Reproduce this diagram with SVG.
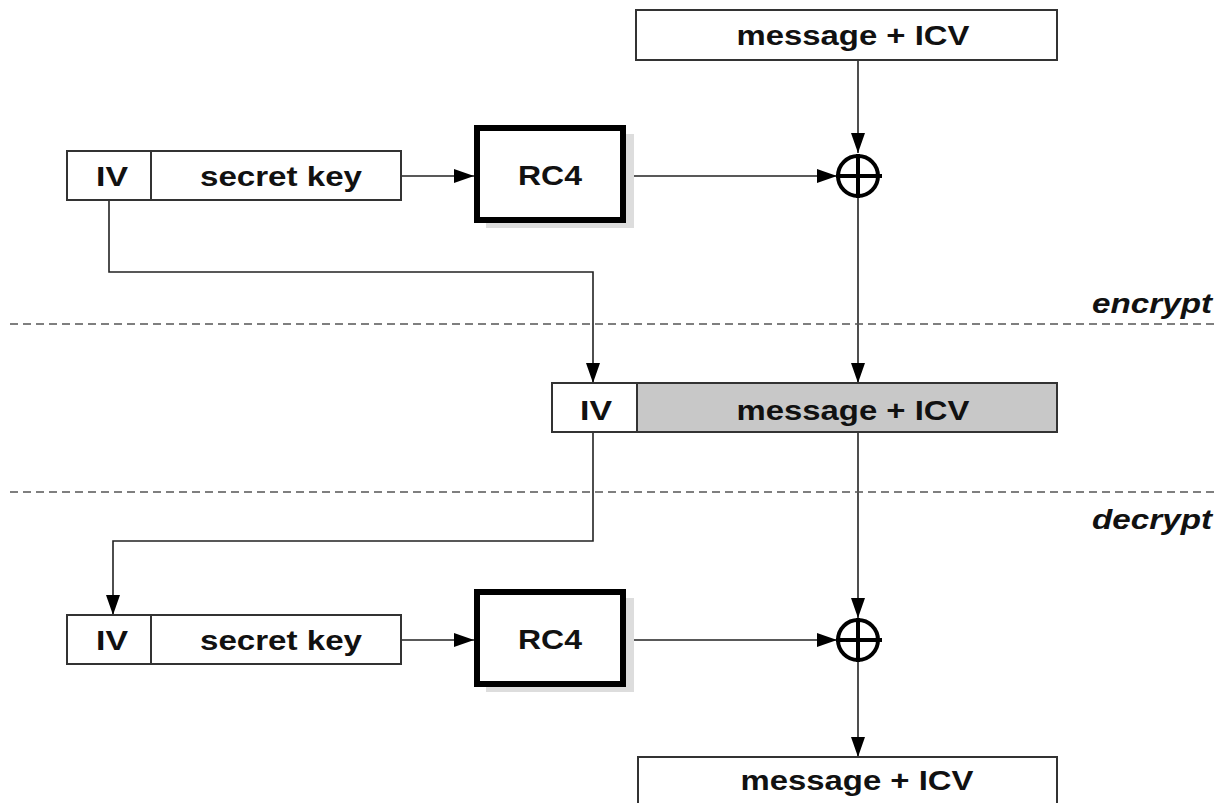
<svg xmlns="http://www.w3.org/2000/svg" width="1218" height="803" viewBox="0 0 1218 803">
<style>
.box{fill:#fff;stroke:#333;stroke-width:2}
.gray{fill:#c8c8c8;stroke:#333;stroke-width:2}
.rc4{fill:#fff;stroke:#000;stroke-width:6}
.shadow{fill:#ddd;stroke:none}
.t{font-family:"Liberation Sans",Arial,sans-serif;font-weight:bold;font-size:28px;fill:#111;text-anchor:middle}
.it{font-style:italic}
.c{fill:none;stroke:#222;stroke-width:1.6}
.x{fill:none;stroke:#000;stroke-width:4}
.dash{fill:none;stroke:#555;stroke-width:1.6;stroke-dasharray:8 5}
</style>
<defs>
<marker id="ah" markerUnits="userSpaceOnUse" markerWidth="22" markerHeight="16" refX="20" refY="7" orient="auto">
<path d="M0,0 L20,7 L0,14 Z" fill="#000"/>
</marker>
</defs>
<rect width="1218" height="803" fill="#fff"/>
<g id="connectors">
<line class="c" x1="858" y1="60" x2="858" y2="153" marker-end="url(#ah)"/>
<line class="c" x1="401" y1="176" x2="474" y2="176" marker-end="url(#ah)"/>
<line class="c" x1="626" y1="176" x2="837" y2="176" marker-end="url(#ah)"/>
<line class="c" x1="858" y1="198" x2="858" y2="383" marker-end="url(#ah)"/>
<polyline class="c" points="109,200 109,272 593,272 593,383" marker-end="url(#ah)"/>
<polyline class="c" points="593,432 593,541 113,541 113,615" marker-end="url(#ah)"/>
<line class="c" x1="858" y1="432" x2="858" y2="618" marker-end="url(#ah)"/>
<line class="c" x1="401" y1="640" x2="474" y2="640" marker-end="url(#ah)"/>
<line class="c" x1="626" y1="640" x2="837" y2="640" marker-end="url(#ah)"/>
<line class="c" x1="858" y1="662" x2="858" y2="757" marker-end="url(#ah)"/>
</g>
<g id="dividers">
<line class="dash" x1="10" y1="324" x2="1218" y2="324"/>
<line class="dash" x1="10" y1="492" x2="1218" y2="492"/>
<text class="t it" x="1152" y="313" textLength="120" lengthAdjust="spacingAndGlyphs">encrypt</text>
<text class="t it" x="1152" y="529" textLength="120" lengthAdjust="spacingAndGlyphs">decrypt</text>
</g>
<g id="msg-top">
<rect class="box" x="636" y="10" width="421" height="50"/>
<text class="t" x="853" y="45" textLength="233" lengthAdjust="spacingAndGlyphs">message + ICV</text>
</g>
<g id="key-top">
<rect class="box" x="67" y="151" width="334" height="49"/>
<line class="box" x1="151" y1="151" x2="151" y2="200"/>
<text class="t" x="112" y="186" textLength="32" lengthAdjust="spacingAndGlyphs">IV</text>
<text class="t" x="281" y="186" textLength="162" lengthAdjust="spacingAndGlyphs">secret key</text>
</g>
<g id="rc4-top">
<rect class="shadow" x="486" y="134" width="148" height="94"/>
<rect class="rc4" x="477" y="128" width="146" height="92"/>
<text class="t" x="550" y="185" textLength="64" lengthAdjust="spacingAndGlyphs">RC4</text>
</g>
<g id="xor-top">
<circle class="x" cx="858" cy="176" r="20"/>
<line class="x" x1="836" y1="176" x2="882" y2="176"/>
<line class="x" x1="858" y1="154" x2="858" y2="198"/>
</g>
<g id="packet">
<rect class="box" x="552" y="383" width="85" height="49"/>
<rect class="gray" x="637" y="383" width="420" height="49"/>
<text class="t" x="596" y="420" textLength="32" lengthAdjust="spacingAndGlyphs">IV</text>
<text class="t" x="853" y="420" textLength="233" lengthAdjust="spacingAndGlyphs">message + ICV</text>
</g>
<g id="key-bottom">
<rect class="box" x="67" y="615" width="334" height="49"/>
<line class="box" x1="151" y1="615" x2="151" y2="664"/>
<text class="t" x="112" y="650" textLength="32" lengthAdjust="spacingAndGlyphs">IV</text>
<text class="t" x="281" y="650" textLength="162" lengthAdjust="spacingAndGlyphs">secret key</text>
</g>
<g id="rc4-bottom">
<rect class="shadow" x="486" y="598" width="148" height="94"/>
<rect class="rc4" x="477" y="592" width="146" height="92"/>
<text class="t" x="550" y="649" textLength="64" lengthAdjust="spacingAndGlyphs">RC4</text>
</g>
<g id="xor-bottom">
<circle class="x" cx="858" cy="640" r="20"/>
<line class="x" x1="836" y1="640" x2="882" y2="640"/>
<line class="x" x1="858" y1="618" x2="858" y2="662"/>
</g>
<g id="msg-bottom">
<rect class="box" x="638" y="757" width="419" height="60"/>
<text class="t" x="857" y="790" textLength="233" lengthAdjust="spacingAndGlyphs">message + ICV</text>
</g>
</svg>
